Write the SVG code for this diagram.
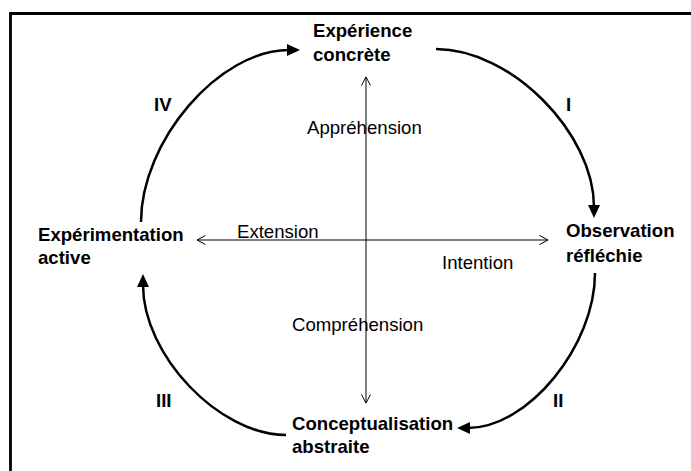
<svg xmlns="http://www.w3.org/2000/svg" width="691" height="471" viewBox="0 0 691 471">
<defs>
<marker id="head" markerUnits="userSpaceOnUse" markerWidth="14" markerHeight="13" refX="2" refY="6" orient="auto" viewBox="0 0 14 12">
<path d="M0,0 L13,6 L0,12 z" fill="#000"/>
</marker>
<style>
.b{font-family:"Liberation Sans",Arial,sans-serif;font-weight:bold;font-size:18.6px;fill:#000}
.r{font-family:"Liberation Sans",Arial,sans-serif;font-size:18.6px;fill:#000}
.cyc{fill:none;stroke:#000;stroke-width:2.5;marker-end:url(#head)}
.ax{fill:none;stroke:#000;stroke-width:1}
</style>
</defs>
<rect width="691" height="471" fill="#fff"/>
<path d="M10.5,471 V13.5 H691" fill="none" stroke="#000" stroke-width="2.8"/>
<g id="connectors">
<path class="ax" d="M366,77 V403"/>
<path class="ax" d="M361.5,85.5 L366,77 L370.5,85.5"/>
<path class="ax" d="M361.5,394.5 L366,403 L370.5,394.5"/>
<path class="ax" d="M197,240 H548"/>
<path class="ax" d="M205.5,235.5 L197,240 L205.5,244.5"/>
<path class="ax" d="M539.5,235.5 L548,240 L539.5,244.5"/>
<path class="cyc" d="M436,49 C511,49 594,133 594,207"/>
<path class="cyc" d="M595,273 C595,346 528,428 468,428"/>
<path class="cyc" d="M286,435 C219,435 143,355 143,285"/>
<path class="cyc" d="M141,222 C141,141 219,50 289,50"/>
<text class="b" x="566" y="111">I</text>
<text class="b" x="553" y="407">II</text>
<text class="b" x="156" y="407">III</text>
<text class="b" x="154" y="111">IV</text>
<text class="r" x="307" y="134">Appréhension</text>
<text class="r" x="237" y="238">Extension</text>
<text class="r" x="442" y="269">Intention</text>
<text class="r" x="292" y="331">Compréhension</text>
</g>
<g id="node-experience">
<text class="b" x="313" y="37">Expérience</text>
<text class="b" x="313" y="61">concrète</text>
</g>
<g id="node-observation">
<text class="b" x="566" y="237">Observation</text>
<text class="b" x="566" y="262">réfléchie</text>
</g>
<g id="node-conceptualisation">
<text class="b" x="292" y="430">Conceptualisation</text>
<text class="b" x="292" y="453">abstraite</text>
</g>
<g id="node-experimentation">
<text class="b" x="38" y="241">Expérimentation</text>
<text class="b" x="38" y="264">active</text>
</g>
</svg>
